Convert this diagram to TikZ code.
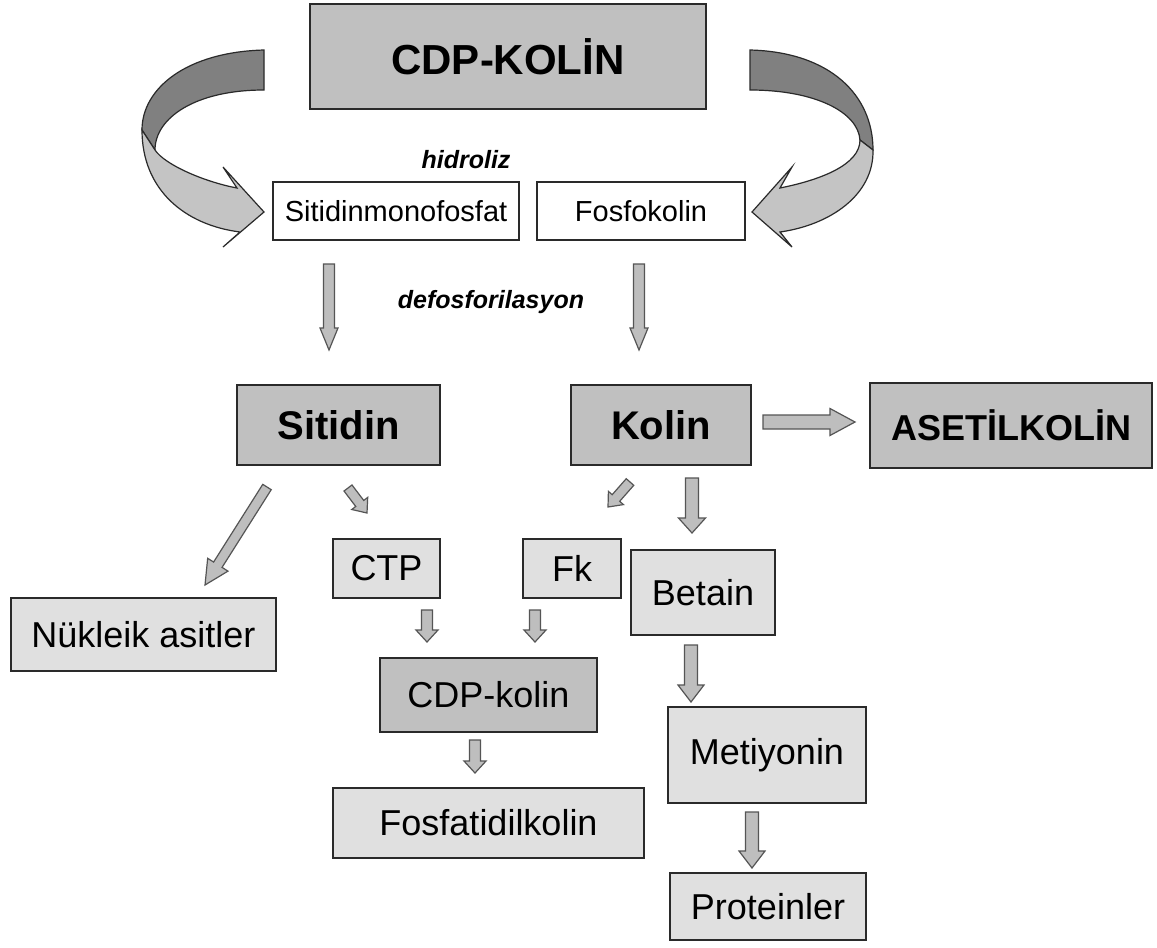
\documentclass[tikz,border=0pt]{standalone}
\usepackage{fontspec}
\setmainfont{Liberation Sans}
\usetikzlibrary{calc}
\definecolor{midgray}{HTML}{C0C0C0}
\definecolor{palegray}{HTML}{E0E0E0}
\definecolor{ribdark}{HTML}{808080}
\definecolor{riblight}{HTML}{C4C4C4}
\definecolor{edgecol}{HTML}{2A2A2A}
\definecolor{arrowfill}{HTML}{BEBEBE}
\definecolor{arrowedge}{HTML}{555555}
\newcommand{\blockarr}[5]{%
  \path ($(#2)!#5!(#1)$) coordinate (hb);
  \draw[blockarrow] ($(#1)!#3!90:(#2)$) -- ($(hb)!#3!90:(#2)$) -- ($(hb)!#4!90:(#2)$) -- (#2)
     -- ($(hb)!#4!-90:(#2)$) -- ($(hb)!#3!-90:(#2)$) -- ($(#1)!#3!-90:(#2)$) -- cycle;
}
\begin{document}
\begin{tikzpicture}[x=1pt,y=-1pt,
  box/.style={draw=edgecol, line width=1.5pt, inner sep=0pt, align=center},
  midbox/.style={box, fill=midgray},
  palebox/.style={box, fill=palegray},
  whitebox/.style={box, fill=white},
  blockarrow/.style={fill=arrowfill, draw=arrowedge, line width=1.2pt, line join=miter},
  ribbondark/.style={fill=ribdark, draw=edgecol, line width=1.2pt},
  ribbonlight/.style={fill=riblight, draw=edgecol, line width=1.2pt},
  fbig/.style={font=\fontsize{42pt}{50pt}\selectfont\bfseries},
  fbold/.style={font=\fontsize{40pt}{48pt}\selectfont\bfseries},
  fase/.style={font=\fontsize{36pt}{44pt}\selectfont\bfseries},
  fnorm/.style={font=\fontsize{36pt}{44pt}\selectfont},
  fsmall/.style={font=\fontsize{29pt}{35pt}\selectfont},
  flabel/.style={font=\fontsize{25pt}{30pt}\selectfont\bfseries\itshape, inner sep=0pt}]
\useasboundingbox (0,0) rectangle (1157,948);
\fill[white] (0,0) rectangle (1157,948);

% curved ribbon arrows
\filldraw[ribbondark] (264,50) .. controls (187,52) and (142,88) .. (142,130) -- (155,150)
   .. controls (155,118) and (195,90) .. (264,90) -- cycle;
\filldraw[ribbonlight] (142,130) .. controls (142,190) and (185,225) .. (240,232) -- (223,247) -- (264,212)
   -- (223,167) -- (237,188) .. controls (205,182) and (165,165) .. (155,150) -- cycle;
\filldraw[ribbondark] (750,50) .. controls (830,52) and (873,95) .. (873,150) -- (860,140)
   .. controls (858,112) and (815,90) .. (750,90) -- cycle;
\filldraw[ribbonlight] (873,150) .. controls (874,195) and (830,225) .. (780,232) -- (792,247) -- (752,212)
   -- (792,167) -- (780,188) .. controls (820,180) and (860,165) .. (860,140) -- cycle;

% boxes
\node[midbox, fbig, minimum width=396pt, minimum height=105pt] (cdpK) at (508,56.5) {CDP-KOLİN};
\node[whitebox, fsmall, minimum width=246pt, minimum height=58pt] (smp) at (396,211) {Sitidinmonofosfat};
\node[whitebox, fsmall, minimum width=208pt, minimum height=58pt] (fsk) at (641,211) {Fosfokolin};
\node[midbox, fbold, minimum width=203pt, minimum height=80pt] (sit) at (338.5,425) {Sitidin};
\node[midbox, fbold, minimum width=180pt, minimum height=80pt] (kol) at (661,425) {Kolin};
\node[midbox, fase, minimum width=282pt, minimum height=85pt] (ase) at (1011,425.5) {ASETİLKOLİN};
\node[palebox, fnorm, minimum width=265pt, minimum height=73pt] (nuk) at (143.5,634.5) {Nükleik asitler};
\node[palebox, fnorm, minimum width=107pt, minimum height=59pt] (ctp) at (386.5,568.5) {CTP};
\node[palebox, fnorm, minimum width=98pt, minimum height=59pt] (fk) at (572,568.5) {Fk};
\node[palebox, fnorm, minimum width=144pt, minimum height=85pt] (bet) at (703,592.5) {Betain};
\node[midbox, fnorm, minimum width=217pt, minimum height=74pt] (cdpk) at (488.5,695) {CDP-kolin};
\node[palebox, fnorm, minimum width=311pt, minimum height=70pt] (fos) at (488.5,823) {Fosfatidilkolin};
\node[palebox, fnorm, minimum width=198pt, minimum height=96pt] (met) at (767,755) {Metiyonin};
\node[palebox, fnorm, minimum width=196pt, minimum height=67pt] (pro) at (768,906.5) {Proteinler};

% labels
\node[flabel] (hid) at (466,160) {hidroliz};
\node[flabel] (def) at (491,302) {defosforilasyon};

% arrow end points
\coordinate (a1s) at (329,264);  \coordinate (a1e) at (329,350);
\coordinate (a2s) at (639,264);  \coordinate (a2e) at (639,350);
\coordinate (a3s) at (763,422);  \coordinate (a3e) at (855,422);
\coordinate (a4s) at (267,487);  \coordinate (a4e) at (205,585);
\coordinate (a5s) at (348,488);  \coordinate (a5e) at (367,513);
\coordinate (a6s) at (630,482);  \coordinate (a6e) at (608,507);
\coordinate (a7s) at (692,478);  \coordinate (a7e) at (692,533);
\coordinate (a8s) at (427,610);  \coordinate (a8e) at (427,642);
\coordinate (a9s) at (535,610);  \coordinate (a9e) at (535,642);
\coordinate (a10s) at (475,740); \coordinate (a10e) at (475,773);
\coordinate (a11s) at (691,645); \coordinate (a11e) at (691,702);
\coordinate (a12s) at (752,812); \coordinate (a12e) at (752,868);

\blockarr{a1s}{a1e}{5.5pt}{9pt}{22pt}
\blockarr{a2s}{a2e}{5.5pt}{9pt}{22pt}
\blockarr{a3s}{a3e}{7pt}{13.5pt}{25pt}
\blockarr{a4s}{a4e}{5pt}{12pt}{24pt}
\blockarr{a5s}{a5e}{5pt}{10pt}{12pt}
\blockarr{a6s}{a6e}{5pt}{10pt}{12pt}
\blockarr{a7s}{a7e}{6.5pt}{13.5pt}{15pt}
\blockarr{a8s}{a8e}{5.5pt}{11pt}{12pt}
\blockarr{a9s}{a9e}{5.5pt}{11pt}{12pt}
\blockarr{a10s}{a10e}{5.5pt}{11pt}{12pt}
\blockarr{a11s}{a11e}{6.5pt}{13pt}{17pt}
\blockarr{a12s}{a12e}{6.5pt}{13pt}{17pt}
\end{tikzpicture}
\end{document}
